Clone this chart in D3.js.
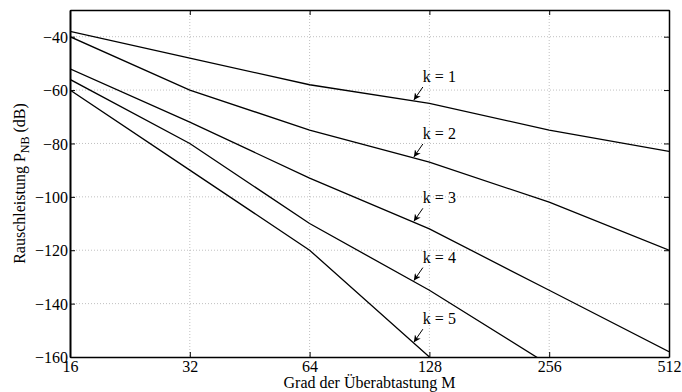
<!DOCTYPE html>
<html>
<head>
<meta charset="utf-8">
<script src="https://cdn.jsdelivr.net/npm/d3@7"></script>
<style>
  body { margin: 0; background: #fff; }
  svg { display: block; font-family: "Liberation Serif", "DejaVu Serif", serif; }
</style>
</head>
<body>
<svg id="chart" width="682" height="392"></svg>
<script>
// oversampling factors (x) and noise power per modulator order k (dB)
const oversampling = [16, 32, 64, 128, 256, 512];
const orders = [1, 2, 3, 4, 5];
const noiseK1 = [-38, -48, -58, -65, -75, -83];
const noiseK2 = [-40, -60, -75, -87, -102, -120];
const noiseK3 = [-52, -72, -93, -112, -135, -158];
const noiseK4 = [-56, -80, -110, -135, -163];
const noiseK5 = [-60, -90, -120, -160];
const yTicks = [-160, -140, -120, -100, -80, -60, -40];
const labelM = 117; // where the "k = n" arrows touch the curves

const series = [noiseK1, noiseK2, noiseK3, noiseK4, noiseK5];

const width = 682, height = 392;
const margin = { top: 10, right: 13, bottom: 35, left: 70 };
const innerW = width - margin.left - margin.right;
const innerH = height - margin.top - margin.bottom;

const svg = d3.select('#chart');

const x = d3.scaleLog().base(2).domain([16, 512]).range([margin.left, margin.left + innerW]);
const y = d3.scaleLinear().domain([-160, -30]).range([margin.top + innerH, margin.top]);

svg.append('defs').append('clipPath').attr('id', 'plotclip')
  .append('rect')
  .attr('x', margin.left).attr('y', margin.top)
  .attr('width', innerW).attr('height', innerH);

svg.select('defs').append('marker')
  .attr('id', 'arrow')
  .attr('viewBox', '0 0 10 10')
  .attr('refX', 10).attr('refY', 5)
  .attr('markerWidth', 7).attr('markerHeight', 7)
  .attr('markerUnits', 'userSpaceOnUse')
  .attr('orient', 'auto')
  .append('path')
  .attr('d', 'M0,0 L10,5 L0,10 L3,5 Z')
  .attr('fill', '#000');

// grid
const grid = svg.append('g').attr('class', 'grid')
  .attr('stroke', '#b0b0b0').attr('stroke-width', 0.8).attr('stroke-dasharray', '1,2');
grid.selectAll('line.gx')
  .data(oversampling.slice(1, -1))
  .join('line')
  .attr('x1', d => x(d)).attr('x2', d => x(d))
  .attr('y1', margin.top).attr('y2', margin.top + innerH);
grid.selectAll('line.gy')
  .data(yTicks.slice(1))
  .join('line')
  .attr('x1', margin.left).attr('x2', margin.left + innerW)
  .attr('y1', d => y(d)).attr('y2', d => y(d));

// curves
const line = d3.line()
  .x((d, i) => x(oversampling[i]))
  .y(d => y(d));

svg.append('g').attr('clip-path', 'url(#plotclip)')
  .selectAll('path')
  .data(series)
  .join('path')
  .attr('d', line)
  .attr('fill', 'none')
  .attr('stroke', '#000')
  .attr('stroke-width', 1.3);

// axes (ticks pointing inward, on all four sides)
const tickLen = 5;
const fontSize = '16px';

const xAxis = svg.append('g')
  .attr('transform', `translate(0,${margin.top + innerH})`)
  .call(d3.axisBottom(x).tickValues(oversampling).tickFormat(d3.format('d'))
    .tickSizeInner(-tickLen).tickSizeOuter(0).tickPadding(3));
const yAxis = svg.append('g')
  .attr('transform', `translate(${margin.left},0)`)
  .call(d3.axisLeft(y).tickValues(yTicks).tickFormat(d3.format('d'))
    .tickSizeInner(-tickLen).tickSizeOuter(0).tickPadding(2));
const xTop = svg.append('g')
  .attr('transform', `translate(0,${margin.top})`)
  .call(d3.axisTop(x).tickValues(oversampling).tickFormat('')
    .tickSizeInner(-tickLen).tickSizeOuter(0));
const yRight = svg.append('g')
  .attr('transform', `translate(${margin.left + innerW},0)`)
  .call(d3.axisRight(y).tickValues(yTicks).tickFormat('')
    .tickSizeInner(-tickLen).tickSizeOuter(0));

[xAxis, yAxis, xTop, yRight].forEach(g => {
  g.select('.domain').attr('stroke', '#000').attr('stroke-width', 1.5);
  g.selectAll('.tick line').attr('stroke', '#000').attr('stroke-width', 1);
  g.selectAll('.tick text')
    .attr('fill', '#000')
    .style('font-family', '"Liberation Serif", "DejaVu Serif", serif')
    .style('font-size', fontSize);
});
yAxis.select('.domain').attr('stroke-width', 2);
yAxis.selectAll('.tick text').attr('dy', '0.35em');
xAxis.selectAll('.tick text').attr('dy', '0.72em');

// axis titles
svg.append('text')
  .attr('x', margin.left + innerW / 2)
  .attr('y', height - 4)
  .attr('text-anchor', 'middle')
  .style('font-size', fontSize)
  .text('Grad der Überabtastung M');

const ylab = svg.append('text')
  .attr('transform', `translate(25,${margin.top + innerH / 2}) rotate(-90)`)
  .attr('text-anchor', 'middle')
  .style('font-size', fontSize);
ylab.append('tspan').text('Rauschleistung P');
ylab.append('tspan').attr('dy', 4).style('font-size', '12px').text('NB');
ylab.append('tspan').attr('dy', -4).text(' (dB)');

// "k = n" annotations with arrows touching each curve at labelM
function valueAt(vals, m) {
  const lm = Math.log2(m);
  for (let i = 0; i < vals.length - 1; i++) {
    const a = Math.log2(oversampling[i]), b = Math.log2(oversampling[i + 1]);
    if (lm >= a && lm <= b) {
      const t = (lm - a) / (b - a);
      return vals[i] + t * (vals[i + 1] - vals[i]);
    }
  }
  return vals[vals.length - 1];
}

const ann = svg.append('g').selectAll('g')
  .data(orders)
  .join('g')
  .attr('transform', (k, i) => `translate(${x(labelM)},${y(valueAt(series[i], labelM))})`);

ann.append('line')
  .attr('x1', 9).attr('y1', -14)
  .attr('x2', 0).attr('y2', -1)
  .attr('stroke', '#000').attr('stroke-width', 1)
  .attr('marker-end', 'url(#arrow)');

ann.append('text')
  .attr('x', 9).attr('y', -19)
  .style('font-size', fontSize)
  .text(k => `k = ${k}`);
</script>
</body>
</html>
